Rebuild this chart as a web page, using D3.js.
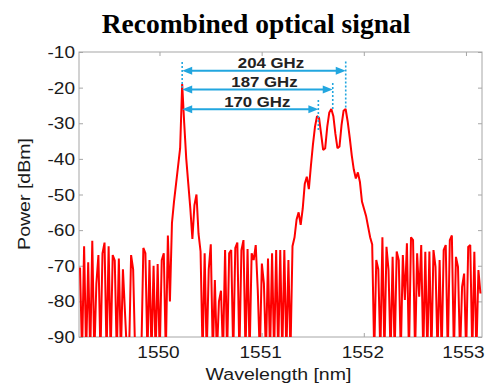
<!DOCTYPE html>
<html>
<head>
<meta charset="utf-8">
<script src="https://cdn.jsdelivr.net/npm/d3@7"></script>
<style>
  html, body { margin: 0; padding: 0; background: #fff; }
  svg { display: block; }
</style>
</head>
<body>
<svg id="chart" width="486" height="385"></svg>
<script>
// ---------- data ----------
const titleText = "Recombined optical signal";
const xLabelText = "Wavelength [nm]";
const yLabelText = "Power [dBm]";

// OSA trace sampling grid (nm)
const lambdaStart = 1549.222;
const lambdaStep = 0.02;
// measured power per sample (dBm); values of -95 are below the display floor
const power = [
  -70.5,-95,-64.5,-95,-69,-95,-63,-95,-75,-67,
  -95,-66.5,-63.5,-95,-64.5,-95,-67,-68.5,-95,-68,
  -95,-71,-83,-95,-95,-67,-71,-95,-95,-95,
  -95,-65,-66.5,-95,-68.4,-95,-70,-95,-69.5,-95,
  -68.4,-66.5,-95,-61.5,-80,-58,-52,-47,-42,-37,
  -19,-30,-40,-47,-54,-62.5,-53,-50,-61,-66,
  -95,-66.5,-95,-71,-64,-95,-74,-95,-80,-77,
  -95,-65.6,-95,-66.5,-65.6,-95,-65,-63.5,-95,-65.6,
  -62.8,-95,-65.3,-95,-66.5,-68.4,-64.2,-76.8,-95,-69.4,
  -75,-95,-68,-95,-66.5,-95,-65.6,-95,-65.6,-95,
  -65.6,-95,-68.4,-95,-64.5,-62,-57,-55,-58.5,-54,
  -47,-45,-48.5,-42,-36,-31,-28,-28.5,-33,-37.5,
  -37,-31,-27,-26,-28,-33,-37,-36.5,-30.5,-26.5,
  -26,-29.5,-34,-39,-43,-45.5,-43.8,-46.5,-52,-54,
  -56,-59,-62,-64,-95,-68.4,-71,-95,-62,-95,
  -64.7,-71.2,-95,-67.5,-95,-66,-68.4,-95,-67,-79.6,
  -63.7,-95,-62,-62.8,-95,-66.5,-78.7,-64.2,-95,-66.1,
  -95,-66,-95,-65.6,-70.3,-95,-68.4,-95,-65.6,-64.2,
  -95,-62.8,-61.5,-95,-67.5,-70.3,-95,-75.9,-72.2,-95,
  -64.7,-64.2,-95,-66.1,-95,-71.2,-77.8
];

const xDomain = [1549.212, 1553.157];
const yDomain = [-90, -10];
const xTicks = [1550, 1551, 1552, 1553];
const yTicks = [-10, -20, -30, -40, -50, -60, -70, -80, -90];

// annotation: carrier and the three sideband peaks
const carrierLambda = 1550.222;
const peakLambdas = [1551.555, 1551.696, 1551.823];
const spacingLabels = ["170 GHz", "187 GHz", "204 GHz"];
const arrowLevels = [-26.1, -20.5, -15.25];        // dBm level of each arrow
const carrierMarker = [-12.8, -20];                 // dotted line top/bottom (dBm)
const peakMarkerTop = [-23.5, -18.7, -12.7];
const peakMarkerBottom = [-32.4, -26.3, -25.7];

// ---------- layout ----------
const svg = d3.select("#chart");
const plot = { left: 79, right: 482, top: 52, bottom: 337 };
const x = d3.scaleLinear().domain(xDomain).range([plot.left, plot.right]);
const y = d3.scaleLinear().domain(yDomain).range([plot.bottom, plot.top]);

const SANS = "'Liberation Sans', Arial, Helvetica, sans-serif";
const STRETCH = 1.12;
const frameColor = "#a6a6a6";
const textColor = "#1a1a1a";
const blue = "#22a6df";

svg.append("rect").attr("width", 486).attr("height", 385).attr("fill", "#fff");

// Title
svg.append("text")
  .attr("x", 256).attr("y", 33)
  .attr("text-anchor", "middle")
  .attr("font-family", "'Liberation Serif', 'Times New Roman', serif")
  .attr("font-weight", "bold")
  .attr("font-size", 27.5)
  .attr("fill", "#000")
  .text(titleText);

// clip
svg.append("clipPath").attr("id", "plotClip")
  .append("rect")
  .attr("x", plot.left).attr("y", plot.top)
  .attr("width", plot.right - plot.left).attr("height", plot.bottom - plot.top);

// frame
svg.append("rect")
  .attr("x", plot.left).attr("y", plot.top)
  .attr("width", plot.right - plot.left).attr("height", plot.bottom - plot.top)
  .attr("fill", "none").attr("stroke", frameColor).attr("stroke-width", 1);

// axes with inward ticks on all sides (box style)
const tickLen = 4;
const gx = svg.append("g").attr("transform", `translate(0,${plot.bottom})`)
  .call(d3.axisBottom(x).tickValues(xTicks).tickSizeInner(-tickLen).tickSizeOuter(0).tickFormat(""));
const gxTop = svg.append("g").attr("transform", `translate(0,${plot.top})`)
  .call(d3.axisTop(x).tickValues(xTicks).tickSizeInner(-tickLen).tickSizeOuter(0).tickFormat(""));
const gy = svg.append("g").attr("transform", `translate(${plot.left},0)`)
  .call(d3.axisLeft(y).tickValues(yTicks).tickSizeInner(-tickLen).tickSizeOuter(0).tickFormat(""));
const gyR = svg.append("g").attr("transform", `translate(${plot.right},0)`)
  .call(d3.axisRight(y).tickValues(yTicks).tickSizeInner(-tickLen).tickSizeOuter(0).tickFormat(""));
[gx, gxTop, gy, gyR].forEach(g => {
  g.select(".domain").remove();
  g.selectAll(".tick line").attr("stroke", frameColor);
});

// tick labels
svg.append("g").selectAll("text").data(xTicks).join("text")
  .attr("transform", d => `translate(${Math.min(x(d) - 1, 463.5)},358) scale(${STRETCH},1)`)
  .attr("text-anchor", "middle")
  .attr("font-family", SANS).attr("font-size", 17).attr("fill", textColor)
  .text(d => d);
svg.append("g").selectAll("text").data(yTicks).join("text")
  .attr("transform", d => `translate(75,${y(d) + 6}) scale(${STRETCH},1)`)
  .attr("text-anchor", "end")
  .attr("font-family", SANS).attr("font-size", 17).attr("fill", textColor)
  .text(d => d);

// axis titles
svg.append("text")
  .attr("transform", `translate(${(plot.left + plot.right) / 2 - 2},380) scale(1.15,1)`)
  .attr("text-anchor", "middle")
  .attr("font-family", SANS).attr("font-size", 17).attr("fill", textColor)
  .text(xLabelText);
svg.append("text")
  .attr("transform", `translate(30,194) rotate(-90) scale(1.15,1)`)
  .attr("text-anchor", "middle")
  .attr("font-family", SANS).attr("font-size", 17).attr("fill", textColor)
  .text(yLabelText);

// spectrum
const samples = power.map((p, i) => ({ lambda: lambdaStart + i * lambdaStep, p }));
const line = d3.line().x(d => x(d.lambda)).y(d => y(d.p));
svg.append("g").attr("clip-path", "url(#plotClip)")
  .append("path")
  .datum(samples)
  .attr("d", line)
  .attr("fill", "none")
  .attr("stroke", "#ff0000")
  .attr("stroke-width", 2)
  .attr("stroke-linejoin", "miter")
  .attr("stroke-miterlimit", 2);

// annotations
const ann = svg.append("g");
const dotted = (lam, top, bottom) => ann.append("line")
  .attr("x1", x(lam)).attr("x2", x(lam))
  .attr("y1", y(top)).attr("y2", y(bottom))
  .attr("stroke", blue).attr("stroke-width", 1.6).attr("stroke-dasharray", "2,2");
dotted(carrierLambda, carrierMarker[0], carrierMarker[1]);
peakLambdas.forEach((lam, i) => dotted(lam, peakMarkerTop[i], peakMarkerBottom[i]));

const headLen = 10, headHalf = 4;
peakLambdas.forEach((lam, i) => {
  const x0 = x(carrierLambda), x1 = x(lam), yy = y(arrowLevels[i]);
  ann.append("line")
    .attr("x1", x0 + headLen - 1).attr("x2", x1 - headLen + 1)
    .attr("y1", yy).attr("y2", yy)
    .attr("stroke", blue).attr("stroke-width", 2);
  ann.append("path")
    .attr("d", `M${x0},${yy} L${x0 + headLen},${yy - headHalf} L${x0 + headLen},${yy + headHalf} Z`)
    .attr("fill", blue);
  ann.append("path")
    .attr("d", `M${x1},${yy} L${x1 - headLen},${yy - headHalf} L${x1 - headLen},${yy + headHalf} Z`)
    .attr("fill", blue);
  ann.append("text")
    .attr("transform", `translate(${(x0 + x1) / 2 + 7},${yy - 2.5}) scale(1.12,1)`)
    .attr("text-anchor", "middle")
    .attr("font-family", SANS).attr("font-weight", "bold").attr("font-size", 15)
    .attr("fill", "#222")
    .text(spacingLabels[i]);
});
</script>
</body>
</html>
